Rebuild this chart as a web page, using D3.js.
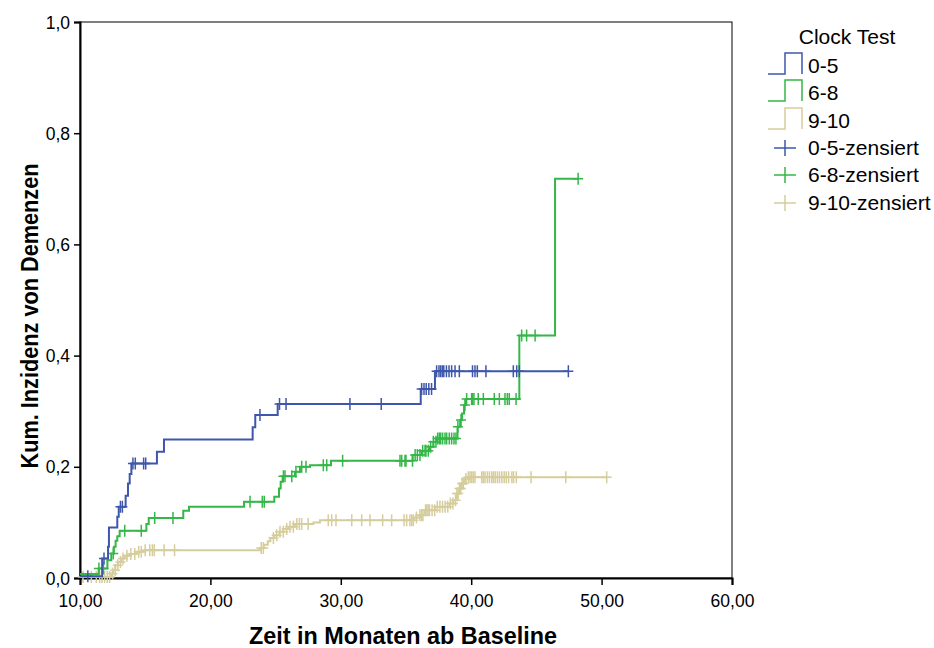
<!DOCTYPE html>
<html>
<head>
<meta charset="utf-8">
<script src="https://cdn.jsdelivr.net/npm/d3@7"></script>
<style>
  body { margin: 0; background: #fff; }
  svg { display: block; font-family: "Liberation Sans", Arial, Helvetica, sans-serif; }
</style>
</head>
<body>
<svg id="chart" width="934" height="648"></svg>
<script>
// ---- data ----
const groups = ["0-5", "6-8", "9-10"];
const legendTitle = "Clock Test";
const xTicks = [10, 20, 30, 40, 50, 60];
const yTicks = [0, 0.2, 0.4, 0.6, 0.8, 1.0];
const xLabel = "Zeit in Monaten ab Baseline";
const yLabel = "Kum. Inzidenz von Demenzen";

// step curves: event times and cumulative incidence after the step
const stepT_0_5 = [10, 11.7, 12.15, 12.22, 12.86, 12.97, 13.5, 13.68, 13.81, 13.94, 15.9, 16.44, 23.24, 23.44, 25.16, 36.13, 37.22];
const stepV_0_5 = [0.003, 0.035, 0.056, 0.091, 0.11, 0.128, 0.148, 0.17, 0.187, 0.206, 0.227, 0.249, 0.271, 0.293, 0.313, 0.34, 0.372];
const cens_0_5 = [10.6, 11.84, 13.1, 13.25, 14.06, 14.24, 14.88, 15.04, 23.8, 25.3, 25.8, 30.7, 33.1,
  36.2, 36.38, 36.55, 36.75, 36.96, 37.35, 37.53, 37.66, 37.79, 37.9, 38.1, 38.3, 38.5, 38.76, 39.09,
  40.1, 40.29, 40.47, 41.13, 43.23, 43.49, 43.69, 47.45];

const stepT_6_8 = [10, 11.43, 12.1, 12.4, 12.6, 12.73, 12.86, 13.04, 15.09, 15.27, 17.92, 18.36, 22.58, 24.9, 25.26, 25.39, 25.54, 26.49, 26.87, 27.64, 29.25,
  35.51, 36.2, 36.8, 37.1, 37.35, 38.95, 39.15, 39.3, 39.45, 39.6, 43.69, 46.43];
const stepV_6_8 = [0.007, 0.017, 0.032, 0.044, 0.056, 0.067, 0.075, 0.085, 0.097, 0.108, 0.121, 0.128, 0.137, 0.146, 0.161, 0.173, 0.183, 0.191, 0.2, 0.203, 0.211,
  0.221, 0.229, 0.236, 0.245, 0.251, 0.272, 0.284, 0.296, 0.311, 0.322, 0.436, 0.718];
const cens_6_8 = [11.45, 11.8, 12.55, 13.43, 14.7, 15.73, 17.13, 23.04, 23.98, 24.13, 25.6, 25.72, 26.24, 26.56, 27.0, 27.33, 28.66, 28.92,
  30.14, 34.54, 34.67, 34.92, 35.0, 35.5, 35.7, 35.87, 36.07, 36.28, 36.46, 36.53, 36.71, 36.89, 37.1, 37.3,
  37.43, 37.56, 37.66, 37.81, 37.99, 38.12, 38.32, 38.5, 38.68, 38.83, 38.98, 39.22,
  39.52, 39.65, 40.03, 40.1, 40.21, 40.54, 40.93, 41.77, 42.16, 42.59, 42.77, 42.92, 43.44,
  43.87, 44.25, 44.9, 48.2];

const stepT_9_10 = [10, 12.4, 12.53, 12.71, 12.91, 13.17, 13.43, 13.81, 14.32, 14.96, 23.8, 24.1, 24.4, 24.6, 24.9, 25.3, 25.6, 26.0, 26.5, 27.9, 28.4,
  35.6, 36.07, 36.46, 37.22, 38.37, 38.63, 38.89, 39.09, 39.27, 39.52, 39.78];
const stepV_9_10 = [0.002, 0.008, 0.014, 0.023, 0.029, 0.035, 0.04, 0.043, 0.047, 0.05, 0.054, 0.06, 0.066, 0.072, 0.077, 0.083, 0.088, 0.092, 0.097, 0.1, 0.104,
  0.109, 0.113, 0.122, 0.128, 0.134, 0.14, 0.152, 0.161, 0.17, 0.178, 0.181];
const cens_9_10 = [10.23, 10.87, 11.25, 11.51, 11.69, 11.89, 12.09, 12.27, 12.5, 12.7, 12.9, 13.1, 13.3, 13.6, 13.9, 14.2, 14.5, 14.7, 15.0,
  15.35, 15.55, 15.7, 16.45, 17.25, 23.9, 24.06, 24.83, 25.08, 25.34, 25.59, 25.85, 26.1, 26.36, 26.62, 26.82, 27.0, 27.5,
  29.04, 29.3, 29.63, 30.84, 31.6, 32.24, 33.21, 33.9, 34.85, 35.05, 35.3, 35.44, 35.56,
  35.8, 36.07, 36.2, 36.3, 36.5, 36.6, 36.7, 36.8, 37.0, 37.2, 37.4, 37.6, 37.8, 38.0, 38.2, 38.4, 38.6, 38.8, 38.9, 39.0, 39.1, 39.2, 39.3, 39.4, 39.6,
  39.78, 39.91, 40.04, 40.16, 40.29, 40.81, 40.93, 41.06, 41.24, 41.4, 41.58, 41.7, 41.84, 42.01, 42.17, 42.35, 42.53, 42.69, 42.87, 43.12, 43.25, 43.46, 44.59, 47.25, 50.39];

const colors = ["#3e57aa", "#35b648", "#d6cd9c"];

// ---- build ----
const series = [
  { name: groups[0], t: stepT_0_5, v: stepV_0_5, c: cens_0_5, color: colors[0] },
  { name: groups[1], t: stepT_6_8, v: stepV_6_8, c: cens_6_8, color: colors[1] },
  { name: groups[2], t: stepT_9_10, v: stepV_9_10, c: cens_9_10, color: colors[2] }
];

const svg = d3.select("#chart");
const M = { left: 80, right: 732, top: 22, bottom: 578 };
const x = d3.scaleLinear().domain([10, 60]).range([M.left, M.right]);
const y = d3.scaleLinear().domain([0, 1]).range([M.bottom, M.top]);

const comma = s => s.replace(".", ",");

// frame
svg.append("rect")
  .attr("x", M.left).attr("y", M.top)
  .attr("width", M.right - M.left).attr("height", M.bottom - M.top)
  .attr("fill", "none").attr("stroke", "#000").attr("stroke-width", 1);

// axes
const yAxis = svg.append("g").attr("transform", `translate(${M.left},0)`)
  .call(d3.axisLeft(y).tickValues(yTicks).tickSize(6).tickPadding(4).tickFormat(d => comma(d3.format(".1f")(d))));
const xAxis = svg.append("g").attr("transform", `translate(0,${M.bottom})`)
  .call(d3.axisBottom(x).tickValues(xTicks).tickSize(7).tickPadding(10).tickFormat(d => comma(d3.format(".2f")(d))));
[yAxis, xAxis].forEach(g => {
  g.select(".domain").attr("stroke", "#000").attr("stroke-width", 2);
  g.selectAll(".tick line").attr("stroke", "#000").attr("stroke-width", 1.5);
  g.selectAll(".tick text").attr("fill", "#000").style("font-size", "17.5px")
    .style("font-family", '"Liberation Sans", Arial, sans-serif');
});
yAxis.selectAll(".tick text").attr("dy", "0.35em");

// step lines
const line = d3.line().x(d => x(d[0])).y(d => y(d[1])).curve(d3.curveStepAfter);
const valueAt = (s, tt) => {
  let val = s.v[0];
  for (let i = 0; i < s.t.length; i++) if (s.t[i] <= tt) val = s.v[i];
  return val;
};

[2, 1, 0].forEach(i => {
  const s = series[i];
  const pts = s.t.map((tt, k) => [tt, s.v[k]]);
  const endT = d3.max(s.c);
  pts.push([endT, s.v[s.v.length - 1]]);
  svg.append("path").attr("d", line(pts)).attr("fill", "none")
    .attr("stroke", s.color).attr("stroke-width", 2);
  const g = svg.append("g");
  s.c.forEach(ct => {
    const cx = x(ct), cy = y(valueAt(s, ct));
    g.append("path")
      .attr("d", `M${cx - 5},${cy}H${cx + 5}M${cx},${cy - 6}V${cy + 6}`)
      .attr("stroke", s.color).attr("stroke-width", 1.5).attr("fill", "none");
  });
});

// axis titles
svg.append("text")
  .attr("x", 403).attr("y", 644)
  .attr("text-anchor", "middle").style("font-size", "24px").style("font-weight", "bold")
  .attr("textLength", 308).attr("lengthAdjust", "spacingAndGlyphs")
  .text(xLabel);
svg.append("text")
  .attr("transform", `translate(38,316) rotate(-90)`)
  .attr("text-anchor", "middle").style("font-size", "24px").style("font-weight", "bold")
  .attr("textLength", 305).attr("lengthAdjust", "spacingAndGlyphs")
  .text(yLabel);

// legend
const leg = svg.append("g");
leg.append("text").attr("x", 847).attr("y", 44).attr("text-anchor", "middle")
  .style("font-size", "21px").text(legendTitle);
const rowY = [66, 93, 121, 148, 175, 203];
series.forEach((s, i) => {
  const cy = rowY[i];
  leg.append("path")
    .attr("d", `M768,${cy + 8}H785V${cy - 13}H802V${cy + 8}`)
    .attr("fill", "none").attr("stroke", s.color).attr("stroke-width", 1.5);
  leg.append("text").attr("x", 808).attr("y", cy).attr("dy", "0.35em")
    .style("font-size", "21px").text(s.name);
});
series.forEach((s, i) => {
  const cy = rowY[i + 3];
  leg.append("path")
    .attr("d", `M774,${cy}H796M785,${cy - 8}V${cy + 8}`)
    .attr("fill", "none").attr("stroke", s.color).attr("stroke-width", 1.5);
  leg.append("text").attr("x", 808).attr("y", cy).attr("dy", "0.35em")
    .style("font-size", "21px").text(s.name + "-zensiert");
});
</script>
</body>
</html>
